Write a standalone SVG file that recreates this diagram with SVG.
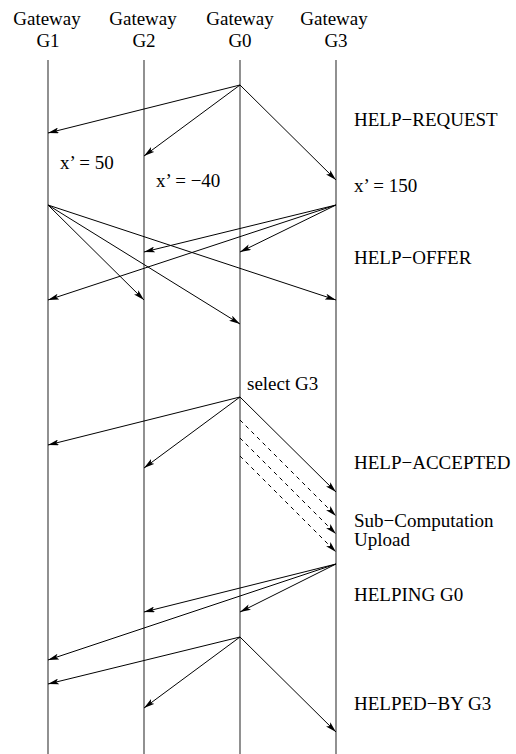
<svg xmlns="http://www.w3.org/2000/svg" width="516" height="754" viewBox="0 0 516 754">
<style>
text{font-family:"Liberation Serif","Times New Roman",serif;font-size:19px;fill:#000}
.hd{text-anchor:middle}
.life{stroke:#555;stroke-width:1.3;fill:none}
.msg{stroke:#000;stroke-width:1;fill:none;marker-end:url(#ah)}
.dash{stroke-dasharray:4,4}
</style>
<defs>
<marker id="ah" markerUnits="userSpaceOnUse" viewBox="0 0 11 6" markerWidth="11" markerHeight="6" refX="11" refY="3" orient="auto">
<path d="M0,0 L11,3 L0,6 L2.5,3 z" fill="#000"/>
</marker>
</defs>
<rect width="516" height="754" fill="#fff"/>
<g id="G1"><text class="hd" x="47" y="25">Gateway</text><text class="hd" x="48" y="47">G1</text><line class="life" x1="48" y1="60" x2="48" y2="754"/></g>
<g id="G2"><text class="hd" x="143" y="25">Gateway</text><text class="hd" x="144" y="47">G2</text><line class="life" x1="144" y1="60" x2="144" y2="754"/></g>
<g id="G0"><text class="hd" x="240" y="25">Gateway</text><text class="hd" x="240" y="47">G0</text><line class="life" x1="240" y1="60" x2="240" y2="754"/></g>
<g id="G3"><text class="hd" x="334" y="25">Gateway</text><text class="hd" x="336" y="47">G3</text><line class="life" x1="336" y1="60" x2="336" y2="754"/></g>
<g id="connectors">
<line class="msg" x1="240" y1="85" x2="48" y2="133"/>
<line class="msg" x1="240" y1="85" x2="144" y2="156"/>
<line class="msg" x1="240" y1="85" x2="336" y2="180"/>
<line class="msg" x1="48" y1="205" x2="144" y2="300"/>
<line class="msg" x1="48" y1="205" x2="240" y2="324"/>
<line class="msg" x1="48" y1="205" x2="336" y2="300"/>
<line class="msg" x1="336" y1="205" x2="144" y2="252"/>
<line class="msg" x1="336" y1="205" x2="240" y2="252"/>
<line class="msg" x1="336" y1="205" x2="48" y2="300"/>
<line class="msg" x1="240" y1="397" x2="48" y2="445"/>
<line class="msg" x1="240" y1="397" x2="144" y2="468"/>
<line class="msg" x1="240" y1="397" x2="336" y2="492"/>
<line class="msg dash" x1="240" y1="420" x2="336" y2="516"/>
<line class="msg dash" x1="240" y1="438" x2="336" y2="534"/>
<line class="msg dash" x1="240" y1="456" x2="336" y2="552"/>
<line class="msg" x1="336" y1="564" x2="144" y2="612"/>
<line class="msg" x1="336" y1="564" x2="240" y2="612"/>
<line class="msg" x1="336" y1="564" x2="48" y2="660"/>
<line class="msg" x1="240" y1="637" x2="48" y2="684"/>
<line class="msg" x1="240" y1="637" x2="144" y2="708"/>
<line class="msg" x1="240" y1="637" x2="336" y2="732"/>
</g>
<g id="labels">
<text x="354" y="126">HELP−REQUEST</text>
<text x="60" y="169">x’ = 50</text>
<text x="156" y="187">x’ = −40</text>
<text x="354" y="192">x’ = 150</text>
<text x="354" y="264">HELP−OFFER</text>
<text x="247" y="390">select G3</text>
<text x="354" y="469">HELP−ACCEPTED</text>
<text x="354" y="527">Sub−Computation</text>
<text x="354" y="546">Upload</text>
<text x="354" y="601">HELPING G0</text>
<text x="354" y="710">HELPED−BY G3</text>
</g>
</svg>
